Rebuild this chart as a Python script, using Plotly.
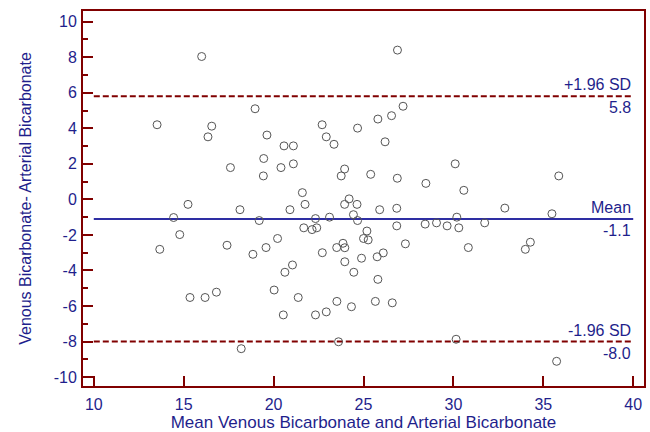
import plotly.graph_objects as go

# Bland-Altman: venous vs arterial bicarbonate
mean_bicarb = [
    16.0, 18.97, 13.52, 16.56, 16.35, 19.63, 20.58, 21.1, 22.7, 22.93,
    23.36, 24.67, 25.8, 17.6, 19.45, 19.43, 20.41, 21.1, 23.95, 23.76,
    25.4, 21.6, 24.2, 15.24, 14.44, 14.78, 13.67, 18.13, 19.2, 17.41,
    18.85, 19.58, 20.22, 20.91, 21.75, 22.33, 21.68, 22.14, 22.4, 23.11,
    23.95, 24.64, 24.44, 24.67, 25.19, 25.0, 25.26, 25.9, 22.71, 23.51,
    23.86, 23.96, 24.89, 23.96, 25.76, 26.1, 21.05, 20.63, 24.46, 25.8,
    20.03, 15.35, 16.19, 16.82, 21.37, 23.52, 25.66, 24.33, 26.6, 20.54,
    22.33, 22.93, 23.61, 18.2,
    26.89, 27.2, 26.56, 26.2, 30.1, 26.88, 28.47, 30.58, 35.86, 26.85,
    26.85, 27.33, 28.43, 29.06, 29.65, 30.19, 30.3, 31.74, 32.86, 35.48,
    30.83, 34.0, 34.28, 30.15, 35.74,
]
diff_bicarb = [
    8.04, 5.10, 4.2, 4.12, 3.52, 3.62, 3.01, 3.01, 4.2, 3.52,
    3.1, 4.01, 4.52, 1.79, 2.3, 1.32, 1.79, 2.0, 1.71, 1.32,
    1.41, 0.38, 0.03, -0.28, -1.02, -1.98, -2.81, -0.58, -1.19, -2.58,
    -3.09, -2.71, -2.2, -0.58, -0.28, -1.08, -1.6, -1.7, -1.6, -1.0,
    -0.28, -0.28, -0.86, -1.19, -1.78, -2.2, -2.28, -0.58, -3.0, -2.71,
    -2.47, -2.72, -3.31, -3.51, -3.23, -3.01, -3.69, -4.1, -4.1, -4.5,
    -5.1, -5.52, -5.52, -5.22, -5.52, -5.74, -5.74, -6.04, -5.82, -6.5,
    -6.5, -6.33, -8.01, -8.4,
    8.4, 5.24, 4.71, 3.24, 2.0, 1.19, 0.9, 0.51, 1.32, -0.5,
    -1.49, -2.5, -1.39, -1.32, -1.49, -1.0, -1.6, -1.32, -0.49, -0.81,
    -2.71, -2.81, -2.41, -7.87, -9.11,
]

mean_diff = -1.1
upper_loa = 5.8
lower_loa = -8.0
line_x = [10, 40]

x_ticks = [10, 15, 20, 25, 30, 35, 40]
y_ticks = [-10, -8, -6, -4, -2, 0, 2, 4, 6, 8, 10]
y_ticktext = ["-10", "-8", "-6", "-4", "-2", "0", "2", "4", "6", "8", "10"]

frame = "#800000"
navy = "#1f1f8c"
font = "Arial, Liberation Sans, sans-serif"

fig = go.Figure()

fig.add_trace(go.Scatter(
    x=line_x, y=[upper_loa, upper_loa], mode="lines",
    line=dict(color=frame, width=2, dash="6px,3px"), hoverinfo="skip"))
fig.add_trace(go.Scatter(
    x=line_x, y=[lower_loa, lower_loa], mode="lines",
    line=dict(color=frame, width=2, dash="6px,3px"), hoverinfo="skip"))
fig.add_trace(go.Scatter(
    x=line_x, y=[mean_diff, mean_diff], mode="lines",
    line=dict(color="#2e2ea3", width=2), hoverinfo="skip"))

fig.add_trace(go.Scatter(
    x=mean_bicarb, y=diff_bicarb, mode="markers",
    marker=dict(symbol="circle-open", size=8, color="#555555",
                line=dict(width=1, color="#555555"))))

# labels for mean and limits
for val, name in [(upper_loa, "+1.96 SD"), (mean_diff, "Mean"), (lower_loa, "-1.96 SD")]:
    fig.add_annotation(x=40, y=val, text=name, showarrow=False,
                       xanchor="right", yanchor="bottom", yshift=1,
                       font=dict(family=font, size=16, color=navy))
    fig.add_annotation(x=40, y=val, text=f"{val:.1f}", showarrow=False,
                       xanchor="right", yanchor="top", yshift=-1,
                       font=dict(family=font, size=16, color=navy))

fig.update_layout(
    width=650, height=432,
    margin=dict(l=83, r=6, t=11, b=46, autoexpand=False),
    paper_bgcolor="white", plot_bgcolor="white",
    showlegend=False,
    font=dict(family=font, color=navy),
)
fig.update_xaxes(
    range=[9.4, 40.6], tickvals=x_ticks, ticks="inside", ticklen=10,
    tickwidth=2, tickcolor=frame, showline=True, linecolor=frame,
    linewidth=2, mirror=True, showgrid=False, zeroline=False,
    ticklabelstandoff=3,
    tickfont=dict(size=16, color=navy),
    title=dict(text="Mean Venous Bicarbonate and Arterial Bicarbonate",
               font=dict(size=17, color=navy), standoff=4),
)
fig.update_yaxes(
    range=[-10.5, 10.6], tickvals=y_ticks, ticktext=y_ticktext,
    ticks="inside", ticklen=10,
    tickwidth=2, tickcolor=frame, showline=True, linecolor=frame,
    linewidth=2, mirror=True, showgrid=False, zeroline=False,
    ticklabelstandoff=1,
    minor=dict(dtick=1, ticks="inside", ticklen=5, tickwidth=2, tickcolor=frame),
    tickfont=dict(size=16, color=navy),
    title=dict(text="Venous Bicarbonate- Arterial Bicarbonate",
               font=dict(size=16, color=navy), standoff=18),
)

fig.write_html("out.html", config={"displayModeBar": False},
               post_script="document.body.style.margin='0';")
